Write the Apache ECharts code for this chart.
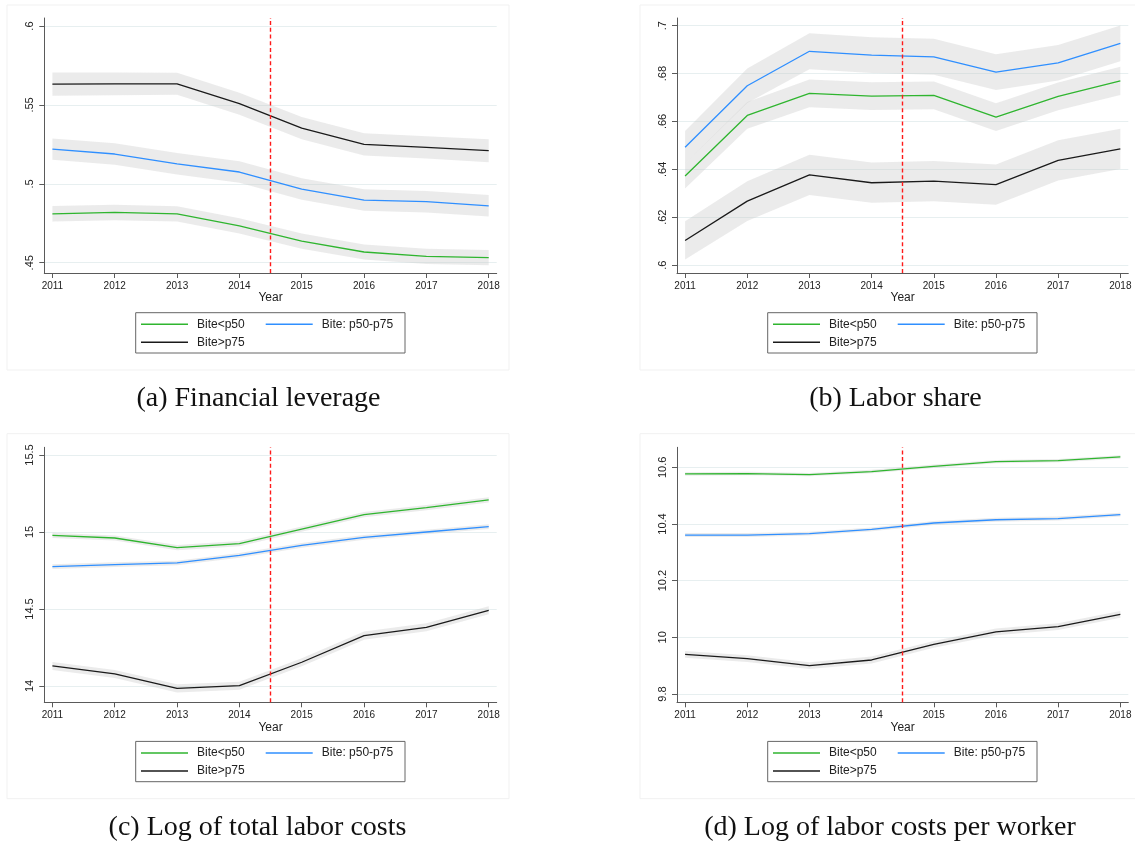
<!DOCTYPE html>
<html>
<head>
<meta charset="utf-8">
<script src="https://cdn.jsdelivr.net/npm/echarts@6/dist/echarts.min.js"></script>
<style>
  html, body { margin: 0; padding: 0; background: #ffffff; }
  #chart { width: 1135px; height: 846px; }
</style>
</head>
<body>
<div id="chart"></div>
<script>
// ---- shared categories ----
const years = [2011, 2012, 2013, 2014, 2015, 2016, 2017, 2018];
const groupNames = ['Bite<p50', 'Bite: p50-p75', 'Bite>p75'];
const reformLine = 2014.5;

// ---- (a) Financial leverage ----
const leverageLow  = [0.4810, 0.4819, 0.4810, 0.4734, 0.4637, 0.4568, 0.4540, 0.4532];
const leverageMid  = [0.5220, 0.5189, 0.5127, 0.5075, 0.4967, 0.4897, 0.4887, 0.4861];
const leverageHigh = [0.5632, 0.5634, 0.5634, 0.5508, 0.5353, 0.5250, 0.5231, 0.5210];
const leverageLowCI  = [0.0049, 0.0049, 0.0048, 0.0048, 0.0048, 0.0048, 0.0048, 0.0048];
const leverageMidCI  = [0.0068, 0.0068, 0.0068, 0.0068, 0.0068, 0.0068, 0.0068, 0.0068];
const leverageHighCI = [0.0073, 0.0072, 0.0070, 0.0070, 0.0070, 0.0070, 0.0071, 0.0073];
const leverageTicks = [0.45, 0.5, 0.55, 0.6];

// ---- (b) Labor share ----
const shareLow  = [0.6372, 0.6625, 0.6717, 0.6706, 0.6709, 0.6618, 0.6705, 0.6769];
const shareMid  = [0.6492, 0.6749, 0.6893, 0.6877, 0.6870, 0.6806, 0.6845, 0.6926];
const shareHigh = [0.6103, 0.6267, 0.6377, 0.6344, 0.6351, 0.6336, 0.6437, 0.6485];
const shareLowCI  = [0.0052, 0.0056, 0.0058, 0.0058, 0.0058, 0.0058, 0.0058, 0.0059];
const shareMidCI  = [0.0068, 0.0072, 0.0075, 0.0075, 0.0075, 0.0075, 0.0074, 0.0075];
const shareHighCI = [0.0080, 0.0083, 0.0084, 0.0084, 0.0084, 0.0084, 0.0084, 0.0084];
const shareTicks = [0.6, 0.62, 0.64, 0.66, 0.68, 0.7];

// ---- (c) Log of total labor costs ----
const totalLow  = [14.978, 14.961, 14.898, 14.924, 15.019, 15.113, 15.158, 15.208];
const totalMid  = [14.775, 14.788, 14.799, 14.848, 14.913, 14.965, 15.000, 15.035];
const totalHigh = [14.130, 14.078, 13.985, 14.002, 14.154, 14.327, 14.381, 14.491];
const totalLowCI  = [0.017, 0.017, 0.017, 0.017, 0.017, 0.017, 0.017, 0.017];
const totalMidCI  = [0.015, 0.015, 0.015, 0.015, 0.015, 0.015, 0.015, 0.015];
const totalHighCI = [0.026, 0.026, 0.027, 0.026, 0.026, 0.026, 0.026, 0.026];
const totalTicks = [14, 14.5, 15, 15.5];

// ---- (d) Log of labor costs per worker ----
const perWorkerLow  = [10.5765, 10.578, 10.574, 10.585, 10.6035, 10.620, 10.6235, 10.6365];
const perWorkerMid  = [10.361, 10.361, 10.366, 10.381, 10.4035, 10.415, 10.419, 10.433];
const perWorkerHigh = [9.940, 9.925, 9.900, 9.920, 9.975, 10.019, 10.0376, 10.081];
const perWorkerLowCI  = [0.006, 0.006, 0.006, 0.006, 0.006, 0.006, 0.006, 0.006];
const perWorkerMidCI  = [0.007, 0.007, 0.007, 0.007, 0.007, 0.007, 0.007, 0.007];
const perWorkerHighCI = [0.012, 0.012, 0.012, 0.012, 0.012, 0.012, 0.012, 0.012];
const perWorkerTicks = [9.8, 10, 10.2, 10.4, 10.6];

const captions = [
  '(a) Financial leverage',
  '(b) Labor share',
  '(c) Log of total labor costs',
  '(d) Log of labor costs per worker'
];

// ---- styling ----
const lineColors = ['#2fb52f', '#2f8fff', '#1a1a1a'];
const bandColor = 'rgba(200, 200, 200, 0.36)';
const axisColor = '#5a5a5a';
const gridColor = '#e7eff0';
const labelFont = '"Liberation Sans", Arial, sans-serif';
const captionFont = '"Liberation Serif", "Times New Roman", serif';

// panel geometry: plot rectangles and y ranges
const panels = [
  { series: [leverageLow, leverageMid, leverageHigh], ci: [leverageLowCI, leverageMidCI, leverageHighCI],
    ticks: leverageTicks, yMin: 0.4435, yMax: 0.6051, left: 44.3, top: 18, width: 452.4, dx: 0, dy: 0 },
  { series: [shareLow, shareMid, shareHigh], ci: [shareLowCI, shareMidCI, shareHighCI],
    ticks: shareTicks, yMin: 0.5967, yMax: 0.7032, left: 677, top: 18, width: 451.3, dx: 632, dy: 0 },
  { series: [totalLow, totalMid, totalHigh], ci: [totalLowCI, totalMidCI, totalHighCI],
    ticks: totalTicks, yMin: 13.894, yMax: 15.55, left: 44.3, top: 447.3, width: 452.4, dx: 0, dy: 428.7 },
  { series: [perWorkerLow, perWorkerMid, perWorkerHigh], ci: [perWorkerLowCI, perWorkerMidCI, perWorkerHighCI],
    ticks: perWorkerTicks, yMin: 9.7707, yMax: 10.6706, left: 677, top: 447.3, width: 451.3, dx: 632, dy: 428.7 }
];

function fmtY(v) {
  const s = String(+Number(v).toFixed(4));
  return s.replace(/^0\./, '.');
}

// confidence band as one polygon: upper edge left->right, lower edge right->left
function bandRenderer(rows) {
  return function (params, api) {
    if (params.dataIndex !== 0) return null;
    const upper = rows.map(r => api.coord([r[0], r[2]]));
    const lower = rows.map(r => api.coord([r[0], r[1]])).reverse();
    return {
      type: 'polygon',
      shape: { points: upper.concat(lower) },
      style: { fill: bandColor, stroke: 'none' },
      silent: true
    };
  };
}

const grid = [], xAxis = [], yAxis = [], series = [], legend = [], graphic = [];

panels.forEach((p, i) => {
  grid.push({ left: p.left, top: p.top, width: p.width, height: 255, containLabel: false });

  xAxis.push({
    type: 'value', gridIndex: i, min: 2010.87, max: 2018.128,
    name: 'Year', nameLocation: 'middle', nameGap: 19,
    nameTextStyle: { fontFamily: labelFont, fontSize: 12, color: '#222' },
    axisLine: { show: true, onZero: false, lineStyle: { color: axisColor, width: 1 } },
    axisTick: { show: true, length: 5, customValues: years, lineStyle: { color: axisColor } },
    axisLabel: { customValues: years, margin: 8, fontFamily: labelFont, fontSize: 10, color: '#222',
                 formatter: v => String(v) },
    splitLine: { show: false }
  });

  yAxis.push({
    type: 'value', gridIndex: i, min: p.yMin, max: p.yMax,
    axisLine: { show: true, onZero: false, lineStyle: { color: axisColor, width: 1 } },
    axisTick: { show: true, length: 5, customValues: p.ticks, lineStyle: { color: axisColor } },
    axisLabel: { customValues: p.ticks, rotate: 90, margin: 9, fontFamily: labelFont, fontSize: 11,
                 color: '#222', formatter: fmtY },
    splitLine: { show: true, lineStyle: { color: gridColor, width: 1.2 } }
  });

  // confidence bands
  p.series.forEach((vals, k) => {
    const ci = p.ci[k];
    const rows = years.map((y, j) => [y, vals[j] - ci[j], vals[j] + ci[j]]);
    series.push({
      type: 'custom', name: 'ci' + i + k, xAxisIndex: i, yAxisIndex: i,
      data: rows, encode: { x: 0, y: [1, 2] },
      renderItem: bandRenderer(rows), clip: true, silent: true, z: 1
    });
  });

  // the three group lines
  p.series.forEach((vals, k) => {
    const s = {
      type: 'line', name: groupNames[k], xAxisIndex: i, yAxisIndex: i,
      data: years.map((y, j) => [y, vals[j]]),
      showSymbol: false, symbol: 'none', z: 3,
      color: lineColors[k],
      itemStyle: { color: lineColors[k] },
      lineStyle: { color: lineColors[k], width: 1.3 }
    };
    if (k === 0) {
      s.markLine = {
        silent: true, symbol: ['none', 'none'], label: { show: false }, z: 4,
        lineStyle: { color: '#ff1a1a', type: [4, 2.7], width: 1.4 },
        data: [{ xAxis: reformLine }]
      };
    }
    series.push(s);
  });

  // legend in two rows
  legend.push({
    left: 141 + p.dx, top: 315.3 + p.dy, width: 262, padding: 0,
    orient: 'horizontal', itemGap: 0, itemWidth: 47, itemHeight: 1.6, icon: 'rect',
    selectedMode: false,
    textStyle: { fontFamily: labelFont, fontSize: 12, color: '#222', lineHeight: 18 },
    data: [
      { name: groupNames[0], textStyle: { padding: [0, 21, 0, 4] } },
      { name: groupNames[1], textStyle: { padding: [0, 0, 0, 4] } },
      { name: groupNames[2], textStyle: { padding: [0, 0, 0, 4] } }
    ]
  });

  // legend frame
  graphic.push({
    type: 'rect', silent: true, z: 10,
    shape: { x: 135.7 + p.dx, y: 312.7 + p.dy, width: 269.3, height: 40.3 },
    style: { fill: 'none', stroke: '#666', lineWidth: 1 }
  });

  // faint graph-region outline
  graphic.push({
    type: 'rect', silent: true, z: -1,
    shape: { x: 7 + p.dx + (p.dx ? 1 : 0), y: 5 + p.dy, width: 502, height: 365 },
    style: { fill: 'none', stroke: '#f1f1f1', lineWidth: 1 }
  });

  // sub-figure caption
  graphic.push({
    type: 'text', silent: true, z: 10,
    x: [258.5, 895.5, 257.5, 890][i], y: [399, 399, 828, 828][i],
    style: { text: captions[i], font: '28px ' + captionFont, fill: '#111',
             textAlign: 'center', textVerticalAlign: 'middle', verticalAlign: 'middle' }
  });
});

const chart = echarts.init(document.getElementById('chart'), null, { renderer: 'canvas' });
chart.setOption({
  animation: false,
  backgroundColor: '#ffffff',
  grid, xAxis, yAxis, series, legend, graphic
});
</script>
</body>
</html>
